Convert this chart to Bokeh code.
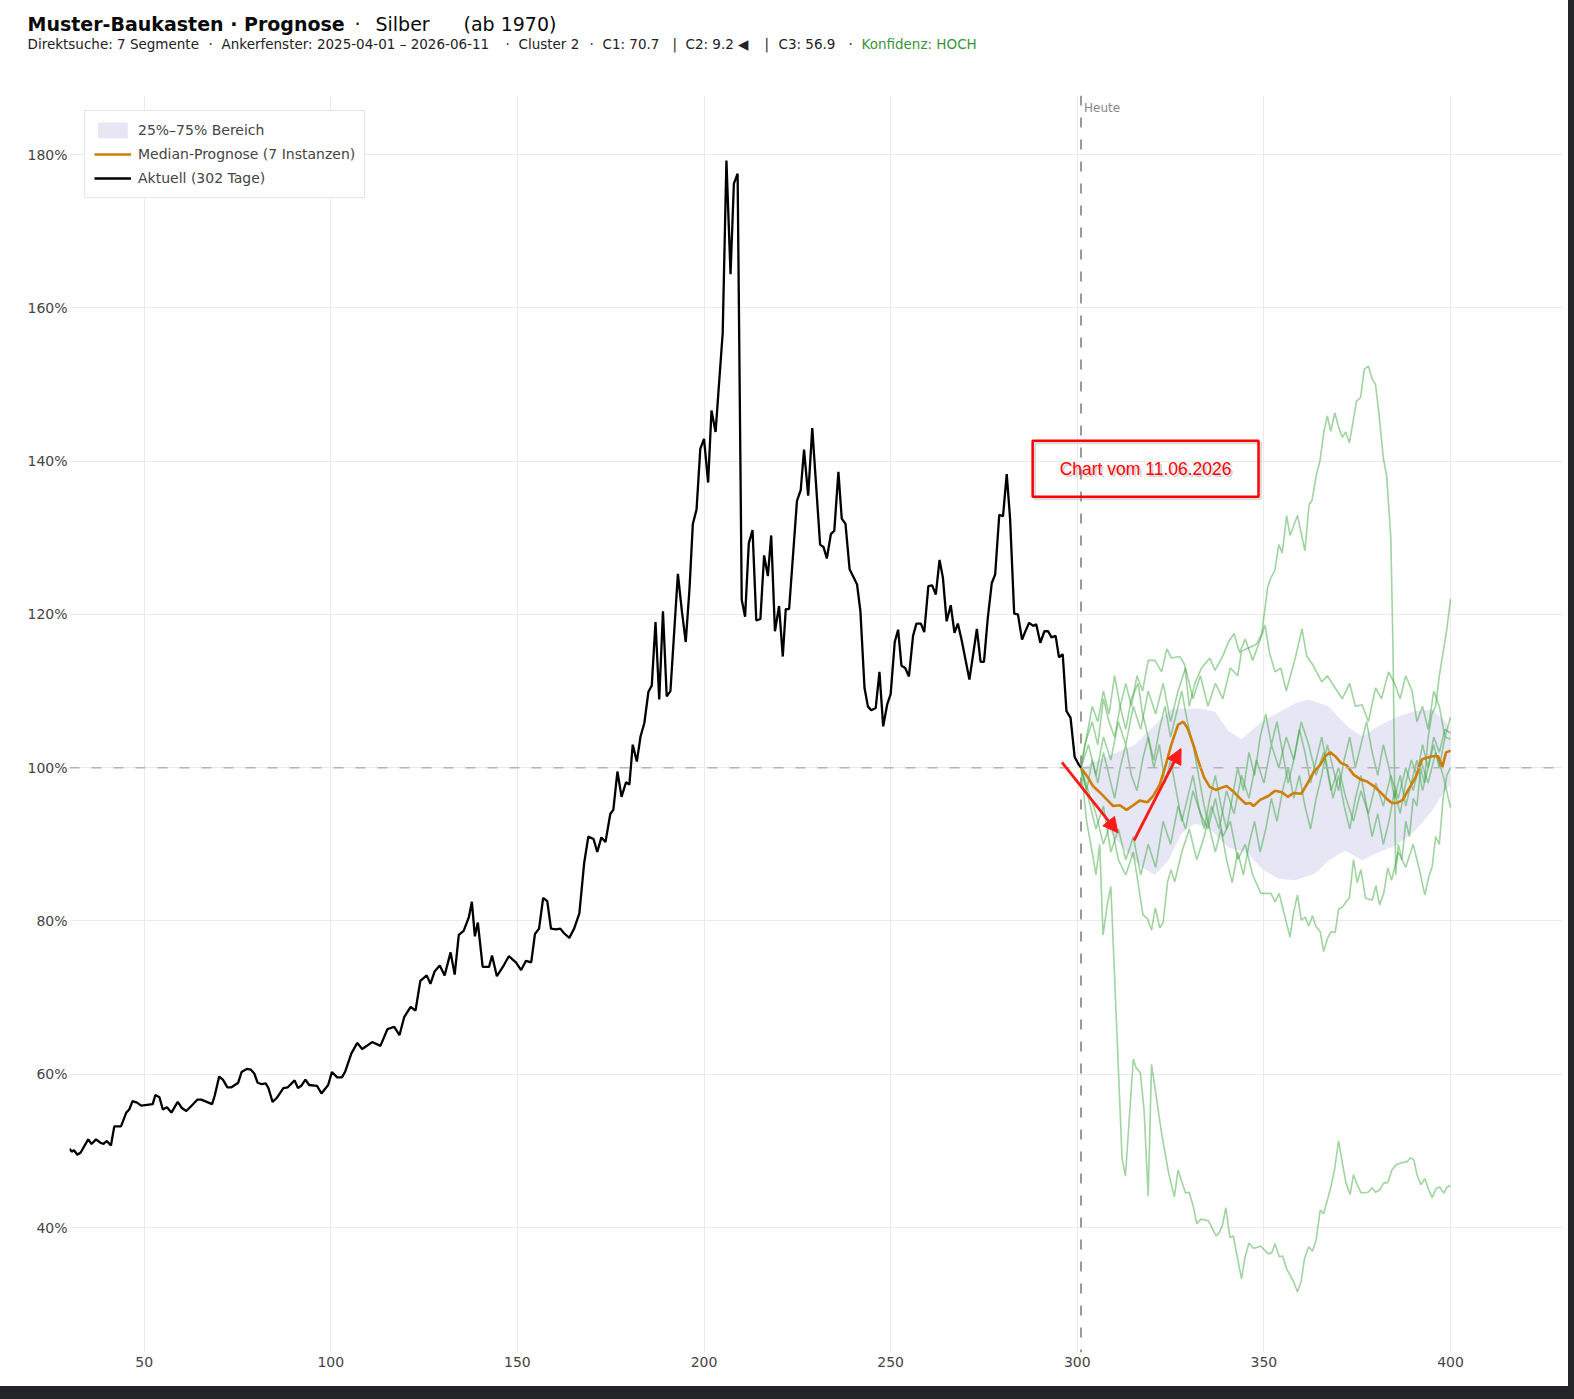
from bokeh.plotting import figure
from bokeh.layouts import column
from bokeh.models import (Span, Label, Arrow, NormalHead, FixedTicker,
                          PrintfTickFormatter, Range1d, GlobalInlineStyleSheet)
from bokeh.embed import file_html
from bokeh.resources import INLINE

# ---------------- data ----------------
x_ticks = [50, 100, 150, 200, 250, 300, 350, 400]
y_ticks = [40, 60, 80, 100, 120, 140, 160, 180]
today_x = 301

actual_x = [30, 30.6, 31.2, 32.1, 33, 35, 35.9, 37.1, 38.2, 39.1, 40, 41.1, 42, 43.8,
            45.2, 46, 46.9, 48.1, 49.2, 52.3, 53, 54.1, 55, 56.1, 57.3, 59, 60.1, 61.3,
            62.7, 64.3, 65.3, 68.2, 68.9, 70.1, 71.1, 72.3, 73.4, 75.2, 76.1, 77.5, 78.6,
            79.5, 80.4, 81.5, 82.6, 83.3, 84.4, 85.5, 87.3, 88.5, 90.3, 91.2, 92.1, 93.2,
            94.2, 96.3, 97.5, 99.3, 100.3, 101.7, 103, 103.9, 105.5, 107.1, 108.4,
            109.0, 111.1, 113.3, 115.2, 117.0, 118.4, 119.7, 121.4, 122.7, 124.0, 125.7,
            126.7, 127.8, 129.2, 130.5, 132.1, 133.2, 134.3, 135.6, 137.0, 137.8, 138.6,
            139.4, 140.7, 142.4, 143.2, 144.5, 146.1, 147.7, 149.6, 151.0, 152.3, 153.7,
            154.7, 155.8, 156.9, 158.0, 159.0, 160.4, 161.5, 162.5, 163.9, 165.2, 166.6,
            167.9, 169.0, 170.4, 171.4, 172.5, 173.6, 174.9, 175.7, 176.8, 177.9, 179.1,
            180.0, 180.9, 182.0, 183.0, 184.0, 185.1, 186.0, 187.0, 188.0, 189.0, 190.0,
            191.0, 193.0, 194.1, 195.1, 196.1, 197.0, 198.0, 199.0, 200.0, 201.1, 202.0,
            203.1, 203.9, 205.0, 206.0, 207.1, 208.0, 209.0, 210.1, 211.0, 212.0, 213.0,
            214.0, 215.1, 216.1, 217.1, 218.0, 219.0, 220.1, 221.1, 221.9, 222.8, 224.9,
            225.9, 226.8, 227.9, 229.0, 231.1, 232.0, 232.9, 234.0, 234.9, 236.0, 236.9,
            237.9, 239.0, 240.1, 241.0, 241.9, 243.0, 243.9, 244.8, 246.0, 247.0, 248.0,
            249.1, 250.0, 251.1, 252.0, 252.9, 253.9, 254.9, 256.0, 256.9, 258.1, 259.0,
            260.1, 261.1, 262.1, 263.1, 264.0, 265.0, 266.1, 267.1, 268.0, 269.0, 271.1,
            273.1, 274.1, 275.0, 276.0, 277.1, 278.0, 279.1, 280.1, 281.1, 282.0, 283.1,
            284.1, 285.2, 286.1, 287.1, 288.2, 289.0, 290.1, 291.2, 292.2, 293.1, 294.2,
            295.1, 296.1, 297.1, 298.2, 299.3, 300.4, 301.0]
actual_y = [50.3, 49.9, 50.1, 49.5, 49.8, 51.5, 50.9, 51.5, 51.1, 50.9, 51.3, 50.7, 53.2, 53.2,
            55.0, 55.4, 56.5, 56.3, 55.9, 56.1, 57.3, 57.0, 55.4, 55.7, 55.0, 56.4, 55.6, 55.2,
            55.9, 56.7, 56.7, 56.1, 57.2, 59.7, 59.3, 58.3, 58.3, 58.9, 60.3, 60.7, 60.6,
            60.1, 58.9, 58.7, 58.8, 58.2, 56.4, 56.9, 58.2, 58.3, 59.2, 58.2, 58.5, 59.3,
            58.6, 58.5, 57.5, 58.6, 60.3, 59.6, 59.6, 60.4, 62.7, 64.1, 63.3,
            63.5, 64.2, 63.7, 65.9, 66.2, 65.1, 67.5, 68.8, 68.3, 72.2, 72.9,
            71.8, 73.4, 74.2, 72.9, 75.9, 73.0, 78.2, 78.7, 80.5, 82.5, 78.0,
            79.8, 74.0, 74.0, 75.5, 72.8, 74.0, 75.4, 74.6, 73.6, 74.8, 74.6,
            78.3, 79.0, 83.0, 82.6, 79.0, 78.9, 79.0, 78.4, 77.8, 79.0, 81.0,
            87.6, 91.0, 90.7, 89.0, 90.9, 90.3, 94.0, 94.5, 99.5, 96.2, 98.1,
            97.8, 103.0, 100.8, 104.1, 105.8, 109.9, 110.7, 119.0, 108.9, 120.4, 109.3,
            110.0, 125.3, 120.3, 116.4, 123.3, 131.8, 133.7, 141.6, 142.9, 137.2, 146.6,
            143.8, 149.3, 156.7, 179.2, 164.4, 176.2, 177.5, 121.9, 119.7, 129.3, 131.0,
            119.2, 119.4, 127.7, 125.0, 130.3, 117.8, 121.1, 114.5, 120.7, 120.7, 134.8,
            136.2, 141.5, 135.5, 144.3, 129.1, 128.8, 127.3, 130.5, 130.9, 138.6, 132.5,
            131.8, 125.9, 124.8, 123.9, 120.4, 110.4, 108.0, 107.5, 107.8, 112.5, 105.4,
            108.3, 109.6, 116.4, 118.0, 113.3, 113.0, 111.9, 117.2, 118.8, 118.8, 117.7,
            123.7, 123.8, 122.6, 127.1, 124.8, 119.1, 121.2, 117.6, 118.8, 116.7, 111.5,
            118.1, 113.8, 113.8, 119.4, 124.1, 125.2, 133.0, 132.8, 138.3, 132.5, 120.1,
            120.0, 116.7, 117.8, 118.9, 118.5, 118.7, 116.3, 117.8, 117.8, 117.0, 117.2,
            114.4, 114.8, 107.4, 106.5, 101.4, 100.4, 100.0]

median_x = [301.0, 302.9, 304.2, 306.0, 307.8, 309.6, 311.4, 313.2, 315.0, 316.7, 318.8,
            320.3, 322.1, 323.5, 325.2, 327.0, 328.4, 329.5, 331.1, 332.4, 334.0, 335.5,
            337.1, 338.7, 340.0, 341.8, 343.6, 345.1, 346.3, 347.2, 349.0, 351.2, 353.0,
            354.8, 356.4, 357.9, 360.0, 361.5, 363.3, 365.1, 366.4, 367.8, 369.1, 370.7,
            372.2, 374.0, 375.8, 377.6, 379.4, 381.2, 383.0, 384.3, 385.7, 387.2, 388.8,
            390.6, 392.4, 393.7, 395.1, 396.7, 397.8, 398.8, 400.0]
median_y = [100.0, 98.7, 97.6, 96.8, 95.9, 95.0, 95.1, 94.5, 95.1, 95.7, 95.5,
            96.3, 97.8, 100.0, 103.0, 105.6, 106.0, 105.2, 103.0, 100.9, 98.7, 97.5,
            97.1, 97.4, 97.6, 96.9, 96.0, 95.3, 95.4, 95.0, 95.8, 96.3, 97.0,
            96.8, 96.2, 96.7, 96.6, 97.8, 99.4, 100.4, 101.5, 102.0, 101.5, 100.6,
            100.3, 99.1, 98.5, 98.2, 97.6, 96.8, 95.9, 95.4, 95.4, 95.8, 97.2,
            98.7, 101.1, 101.3, 101.5, 101.5, 100.1, 102.0, 102.2]

band_hi_x = [301.0, 315.4, 325.2, 333.3, 336.9, 340.5, 344.0, 349.4, 358.4, 362.0, 367.3,
             372.7, 376.3, 379.9, 385.2, 389.7, 395.1, 398.7, 400.0]
band_hi_y = [100.0, 103.0, 107.7, 107.7, 107.3, 104.8, 103.7, 106.0, 108.4, 108.9, 108.0,
             105.2, 104.1, 105.2, 106.5, 107.3, 107.6, 106.0, 104.8]
band_lo_x = [301.0, 304.7, 309.1, 313.6, 317.2, 320.8, 324.4, 327.9, 331.5, 335.1, 340.5,
             345.8, 349.4, 353.9, 358.4, 363.7, 367.3, 371.8, 376.3, 379.9, 385.2, 390.6,
             395.1, 397.8, 400.0]
band_lo_y = [100.0, 95.7, 91.4, 88.8, 87.0, 86.0, 87.9, 91.4, 92.7, 92.2, 89.6,
             88.8, 86.8, 85.5, 85.3, 86.2, 87.9, 89.2, 87.9, 88.8, 89.8, 91.8,
             94.4, 96.5, 97.8]

# seven analogue instances (green)
inst1_x = [301, 303, 305, 307, 309, 311, 313, 315, 317, 319, 321, 323, 325, 327, 329, 331,
           333, 335, 337, 339, 341, 343, 344.0, 348.0, 349.4, 351.0, 351.9, 352.9, 354.0,
           354.9, 356.1, 357.0, 359.0, 361.0, 362.1, 362.9, 364.1, 365.0, 366.1, 367.0,
           367.9, 369.0, 370.1, 371.0, 371.9, 372.9, 373.9, 374.8, 375.9, 376.9, 378.0,
           379.0, 379.9, 380.8, 382.0, 382.9, 384.0, 384.6, 385.3, 386, 387, 388, 389, 390,
           391, 392, 393, 394, 395, 396, 397, 398, 399, 400]
inst1_y = [100, 103, 99, 104, 101, 106, 103, 108, 105, 110, 107, 111, 106, 110, 113, 109,
           112, 108, 111, 109, 113, 112, 115.2, 116.1, 117.4, 123.5, 124.8, 125.7, 129.1,
           128.0, 132.9, 130.3, 132.9, 128.3, 134.3, 134.9, 138.3, 140.0, 143.9, 145.9,
           143.9, 146.3, 144.3, 143.1, 143.8, 142.4, 145.2, 147.8, 148.3, 152.0, 152.4,
           150.7, 150.0, 146.3, 140.4, 138.0, 130.0, 115.2, 86, 90, 88, 93, 91, 96,
           95, 100, 98, 104, 107, 108, 112, 115, 118, 122]
inst2_x = [301, 303, 305, 307, 309, 311, 313, 315, 317, 319, 321, 323, 325, 327, 329, 331,
           333, 335, 337, 339, 341, 343, 345, 347, 349.2, 351.9, 353.0, 354.1, 355.2, 357.0,
           357.9, 359.0, 360.0, 361.1, 362.0, 363.0, 363.9, 365.1, 366.0, 367.0, 368.0,
           369.1, 370.0, 371.2, 372.0, 372.9, 374, 375, 376.0, 377.2, 379.0, 380.0, 381.0,
           382.1, 383.2, 384.2, 386, 388, 390, 391.9, 393.1, 394.2, 395.1, 396, 397, 398,
           399, 400]
inst2_y = [100, 96, 92, 95, 89, 92, 88, 91, 86, 90, 87, 93, 90, 95, 92, 97,
           94, 92, 96, 91, 93, 88, 90, 86, 83.6, 83.6, 82.5, 83.6, 81.4, 77.9,
           81.0, 83.4, 80.1, 80.5, 79.3, 80.7, 79.3, 78.6, 76.0, 77.7, 78.6,
           78.5, 81.5, 81.9, 82.5, 83.0, 88, 85, 86.7, 83.0, 82.7, 84.6, 82.1,
           83.6, 86.9, 85.3, 89, 87, 90, 86.2, 83.4, 85.8, 87.1, 91, 90, 96,
           99, 100]
inst3_x = [301, 303, 305, 307, 309, 311, 313, 315, 317.6, 318.8, 319.9, 320.9, 322.1, 323.0,
           324.2, 325.1, 326.1, 328, 330, 332, 334, 336, 338, 340, 342, 344, 346, 348, 350,
           352, 354, 356, 358, 360, 362, 364, 366, 368, 370, 372, 374, 376, 378, 380, 382,
           384, 386, 388, 390, 392, 394, 396, 398, 400]
inst3_y = [100, 97, 94, 90, 93, 88, 86, 89, 80.8, 80.3, 78.8, 81.7, 79.1, 79.8,
           85.1, 86.7, 85.1, 89, 92, 88, 91, 95, 92, 97, 94, 99, 96, 101, 98,
           103, 100, 104, 101, 106, 103, 99, 102, 97, 100, 96, 93, 97, 94, 98, 95,
           99, 96, 100, 97, 101, 98, 102, 99, 94.8]
inst4_x = [301, 302, 304, 305.5, 307, 308.5, 310, 311.5, 313, 314.5, 316, 317.5, 319, 320.8,
           322.6, 324, 325.2, 327.5, 328.8, 330, 331.5, 333.3, 335.5, 336.9, 339.1, 340.5,
           342, 343.5, 345, 347, 348.5, 350.3, 351.5, 353, 354.5, 356, 358.4, 360.2, 361.5,
           363, 365.5, 367, 369.1, 371, 373, 374.5, 376.3, 378, 379.9, 381.5, 383.4, 385,
           386.5, 388, 389.7, 391, 392.5, 394, 395.5, 397, 398.5, 400]
inst4_y = [100, 103, 106, 103, 109, 106, 104, 108, 111, 108, 112, 110, 114, 114,
           112.5, 115.5, 114.3, 114.5, 113.4, 108, 111, 113, 114.3, 112.7, 114.7, 116.4,
           117.5, 115, 116.8, 114, 116, 118.6, 115, 112.5, 113, 110, 114.3, 118.1, 114.5,
           113.5, 111.2, 112, 110.4, 109, 111, 108, 108.2, 106, 110.4, 109, 112.5, 111,
           109, 112, 110, 106, 108, 105, 110, 108, 104, 106.6]
inst5_x = [301, 302.5, 304, 305.5, 307, 308.5, 310, 311.5, 313, 314.5, 316, 317.5, 319,
           320.5, 322, 323.5, 325, 326.5, 328, 329.5, 331, 332.5, 334, 335.5, 337, 338.5,
           340, 341.5, 343, 344.5, 346, 347.5, 349, 350.5, 352, 353.5, 355, 356.5, 358,
           359.5, 361, 362.5, 364, 365.5, 367, 368.5, 370, 371.5, 373, 374.5, 376, 377.5,
           379, 380.5, 382, 383.5, 385, 386.5, 388, 389.5, 391, 392.5, 394, 395.5, 397,
           398.5, 400]
inst5_y = [100, 97, 101, 98, 102, 99, 96, 100, 103, 99, 97, 101, 104,
           101, 105, 108, 104, 107, 110, 106, 103, 99, 95, 92, 89, 92,
           88, 85, 89, 86, 90, 93, 89, 92, 96, 93, 97, 100, 96,
           99, 95, 92, 96, 99, 103, 100, 97, 101, 104, 100, 103, 106,
           102, 99, 103, 100, 96, 99, 95, 98, 101, 97, 100, 103, 100,
           104, 103.7]
inst6_x = [301, 302.5, 304, 305.5, 307, 308.5, 310, 311.5, 313, 314.5, 316.3, 317.5, 319,
           320.5, 322, 323.5, 325, 326.5, 328, 329.5, 331, 332.5, 334, 335.5, 337, 338.5,
           340, 341.5, 343, 344.5, 346, 347.5, 349, 350.5, 352, 353.5, 355, 356.5, 358,
           359.5, 361, 362.5, 364, 365.5, 367, 368.5, 370, 371.5, 373, 374.5, 376, 377.5,
           379, 380.5, 382, 383.5, 385, 386.5, 388, 389.5, 391, 392.5, 394, 395.5, 397,
           398.5, 400]
inst6_y = [100, 104, 108, 106, 110, 107, 112, 108, 105, 109, 111, 107, 104,
           100, 103, 98, 101, 97, 93, 96, 99, 95, 92, 96, 99, 95,
           92, 96, 100, 97, 102, 99, 104, 107, 103, 106, 102, 98, 101,
           105, 102, 98, 101, 104, 100, 96, 99, 95, 92, 96, 99, 95,
           91, 94, 90, 93, 97, 94, 98, 101, 99, 103, 100, 104, 102,
           105, 104.5]
inst7_x = [301, 302.5, 304, 305, 306, 306.9, 308, 309.0, 312.0, 312.9, 315.0, 315.8, 316.9,
           317.9, 319.0, 319.9, 322.6, 324.4, 326.0, 327.0, 329.0, 330.0, 331.1, 332.0,
           333.1, 335.1, 336.2, 337.2, 338.0, 338.9, 339.8, 340.9, 341.8, 344.0, 344.9,
           346.0, 347.2, 348.1, 349.1, 350.3, 351.2, 352.1, 353.0, 354.1, 355.0, 356.1,
           357.9, 359.0, 360.0, 360.9, 362.0, 363.0, 364.0, 365.1, 366.0, 368.0, 368.9,
           370.0, 371.1, 372.0, 373.1, 374.0, 375.0, 376.1, 377.9, 379.0, 379.9, 381.0,
           382.1, 383.2, 384.3, 385.4, 387.2, 388.4, 389.3, 390.2, 391.0, 392.1, 393.1,
           394.2, 395.1, 396.1, 397.1, 398.2, 399.1, 400.0]
inst7_y = [100, 93, 89, 86, 90, 78.2, 82, 84.5, 49.0, 46.7, 62.0, 60.8, 60.2,
           55.3, 44.1, 61.3, 52.3, 47.3, 44.0, 47.5, 44.5, 44.6, 42.7, 40.5,
           41.1, 40.9, 39.9, 38.9, 39.3, 40.3, 42.6, 38.7, 38.9, 33.3, 36.0,
           38.0, 37.3, 37.4, 37.6, 37.0, 36.6, 36.7, 37.9, 36.2, 36.3, 34.6,
           33.0, 31.6, 33.0, 36.0, 37.5, 36.9, 38.4, 42.3, 41.8, 45.4, 47.5,
           51.3, 48.2, 45.8, 44.3, 46.9, 45.6, 44.5, 44.6, 45.2, 44.6, 44.9,
           45.8, 45.9, 47.5, 48.2, 48.5, 48.6, 49.1, 48.8, 46.9, 45.6, 46.4,
           44.9, 43.9, 45.1, 45.3, 44.5, 45.3, 45.5]
instances = [(inst1_x, inst1_y), (inst2_x, inst2_y), (inst3_x, inst3_y), (inst4_x, inst4_y),
             (inst5_x, inst5_y), (inst6_x, inst6_y), (inst7_x, inst7_y)]

# header texts: (text, left position in px, style)
title_parts = [("Muster-Baukasten · Prognose", 27, "bold"),
               ("·", 354, "normal"),
               ("Silber", 375, "normal"),
               ("(ab 1970)", 463, "normal")]
subtitle_parts = [("Direktsuche: 7 Segmente", 27, "#222222"),
                  ("·", 208, "#222222"),
                  ("Ankerfenster: 2025-04-01 – 2026-06-11", 221, "#222222"),
                  ("·", 505, "#222222"),
                  ("Cluster 2", 518, "#222222"),
                  ("·", 589, "#222222"),
                  ("C1: 70.7", 602, "#222222"),
                  ("|", 672, "#222222"),
                  ("C2: 9.2 ◀", 685, "#222222"),
                  ("|", 764, "#222222"),
                  ("C3: 56.9", 778, "#222222"),
                  ("·", 848, "#222222"),
                  ("Konfidenz: HOCH", 861, "#3a943a")]
legend_band = "25%–75% Bereich"
legend_median = "Median-Prognose (7 Instanzen)"
legend_actual = "Aktuell (302 Tage)"
note_text = "Chart vom 11.06.2026"

FONT = "DejaVu Sans"
W = 1568
HEAD_H = 60

# ---------------- header (title + subtitle) ----------------
head = figure(width=W, height=HEAD_H, output_backend="svg", toolbar_location=None,
              x_range=Range1d(0, W), y_range=Range1d(HEAD_H, 0),
              x_axis_location=None, y_axis_location=None,
              min_border_left=0, min_border_right=0, min_border_top=0, min_border_bottom=0,
              background_fill_color="white", border_fill_color="white")
head.grid.visible = False
head.outline_line_color = None
head.styles = {"background-color": "white"}
for txt, xpos, style in title_parts:
    head.add_layout(Label(x=xpos, y=34, text=txt, text_font=FONT, text_font_size="19px",
                          text_font_style=style, text_color="#0a0a0a"))
for txt, xpos, col in subtitle_parts:
    head.add_layout(Label(x=xpos, y=51, text=txt, text_font=FONT, text_font_size="13.5px",
                          text_color=col))

# ---------------- main chart ----------------
p = figure(width=W, height=1386 - HEAD_H, output_backend="svg", toolbar_location=None,
           x_range=Range1d(30, 430), y_range=Range1d(23.7, 187.7),
           min_border_left=69, min_border_right=6, min_border_top=95 - HEAD_H,
           min_border_bottom=34, background_fill_color="white",
           border_fill_color="white")
p.styles = {"background-color": "white"}
p.outline_line_color = None

for fig in (head, p):
    if "frame_align" in fig.properties():
        fig.frame_align = False

for ax in (p.xaxis, p.yaxis):
    ax.axis_line_color = None
    ax.major_tick_line_color = None
    ax.minor_tick_line_color = None
    ax.major_tick_out = 0
    ax.major_tick_in = 0
    ax.major_label_text_font = FONT
    ax.major_label_text_font_size = "14px"
    ax.major_label_text_color = "#444444"
p.xaxis.ticker = FixedTicker(ticks=x_ticks)
p.yaxis.ticker = FixedTicker(ticks=y_ticks)
p.yaxis.formatter = PrintfTickFormatter(format="%d%%")
p.xaxis.major_label_standoff = 4
p.yaxis.major_label_standoff = 2
p.xgrid.grid_line_color = "#ebebeb"
p.ygrid.grid_line_color = "#ebebeb"
p.xgrid.ticker = FixedTicker(ticks=x_ticks)
p.ygrid.ticker = FixedTicker(ticks=y_ticks)

# band
p.patch(band_hi_x + band_lo_x[::-1], band_hi_y + band_lo_y[::-1],
        fill_color="#e6e6f5", line_color=None, legend_label=legend_band)

# instances
for ix, iy in instances:
    p.line(ix, iy, line_color="#2ca02c", line_alpha=0.45, line_width=1.6)

# reference lines
p.add_layout(Span(location=100, dimension="width", line_color="#b4b4b4",
                  line_dash="10 12", line_width=1.5))
p.add_layout(Span(location=today_x, dimension="height", line_color="#9a9a9a",
                  line_dash="10 12", line_width=2))

p.line(actual_x, actual_y, line_color="black", line_width=2.3, legend_label=legend_actual)
p.line(median_x, median_y, line_color="#cc7f00", line_width=2.6, legend_label=legend_median)

# legend
lg = p.legend[0]
lg.items = [lg.items[0], lg.items[2], lg.items[1]]
lg.location = "top_left"
lg.margin = 15
lg.padding = 9
lg.spacing = 4
lg.label_height = 20
lg.glyph_height = 20
lg.glyph_width = 37
lg.label_standoff = 7
lg.label_text_font = FONT
lg.label_text_font_size = "14px"
lg.label_text_color = "#444444"
lg.border_line_color = "#cccccc"
lg.border_line_width = 1
lg.background_fill_alpha = 1

# "Heute"
p.add_layout(Label(x=today_x, y=186.1, text="Heute", x_offset=3, text_baseline="middle",
                   text_font=FONT, text_font_size="12px", text_color="#888888"))

# annotation box with soft shadow
p.add_layout(Label(x=318.3, y=139.0, x_offset=2, y_offset=-2, text=note_text,
                   text_align="center", text_baseline="middle",
                   text_font="Liberation Sans", text_font_size="17.5px",
                   text_color="#9a9a9a", text_alpha=0.45,
                   border_line_color="#9a9a9a", border_line_alpha=0.35,
                   border_line_width=3, padding=(27, 18)))
p.add_layout(Label(x=318.3, y=139.0, text=note_text, text_align="center",
                   text_baseline="middle", text_font="Liberation Sans",
                   text_font_size="17.5px", text_color="#ff0000",
                   border_line_color="#ff0000", border_line_width=2.5,
                   padding=(27, 18)))

# arrows
p.add_layout(Arrow(x_start=295.9, y_start=100.7, x_end=310.9, y_end=91.5,
                   line_color="#ff1a1a", line_width=2.8,
                   end=NormalHead(size=15, fill_color="#ff1a1a", line_color="#ff1a1a")))
p.add_layout(Arrow(x_start=315.2, y_start=90.5, x_end=327.8, y_end=102.5,
                   line_color="#ff1a1a", line_width=2.8,
                   end=NormalHead(size=15, fill_color="#ff1a1a", line_color="#ff1a1a")))

page = column(head, p, spacing=0,
              stylesheets=[GlobalInlineStyleSheet(css="body { background-color: #232428; }")])

open("out.html", "w").write(file_html(page, INLINE))
